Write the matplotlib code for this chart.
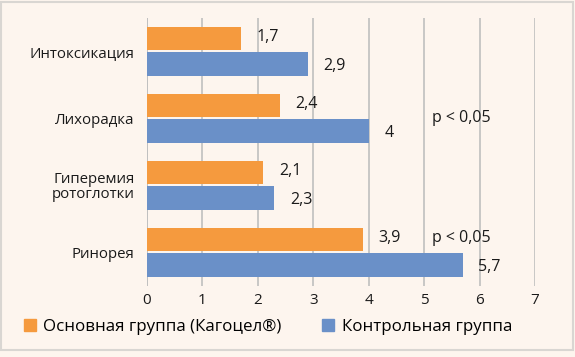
import matplotlib
matplotlib.use("Agg")
import matplotlib.pyplot as plt
import numpy as np
from matplotlib.patches import Rectangle

categories = ["Интоксикация", "Лихорадка", "Гиперемия\nротоглотки", "Ринорея"]
main_group = [1.7, 2.4, 2.1, 3.9]
control_group = [2.9, 4.0, 2.3, 5.7]
main_labels = ["1,7", "2,4", "2,1", "3,9"]
control_labels = ["2,9", "4", "2,3", "5,7"]
series_names = ["Основная группа (Кагоцел®)", "Контрольная группа"]
p_notes = [(1, "p < 0,05"), (3, "p < 0,05")]

plt.rcParams['font.family'] = ['Open Sans', 'DejaVu Sans']

bg = "#FDF5EE"
orange = "#F59A3E"
blue = "#6A90C8"
txtc = "#1a1a1a"

fig = plt.figure(figsize=(5.75, 3.57), dpi=100, facecolor=bg)
fig.patches.append(Rectangle((0.002, 0.02), 0.995, 0.975, transform=fig.transFigure,
                             facecolor="none", edgecolor="#D9D6D2", lw=1.5))
ax = fig.add_axes([0.2557, 0.199, 0.9304 - 0.2557, 0.9496 - 0.199])
ax.set_facecolor(bg)

y = np.arange(len(categories))
h = 0.35
off = 0.19
ax.barh(y - off, main_group, height=h, color=orange, zorder=3, label=series_names[0])
ax.barh(y + off, control_group, height=h, color=blue, zorder=3, label=series_names[1])

for i in range(len(categories)):
    ax.text(main_group[i] + 0.28, y[i] - off - 0.03, main_labels[i], va="center", ha="left",
            fontsize=11.5, color=txtc)
    ax.text(control_group[i] + 0.28, y[i] + off + 0.02, control_labels[i], va="center", ha="left",
            fontsize=11.5, color=txtc)
for idx, txt in p_notes:
    yy = y[idx] + (0.0 if idx == 1 else -off - 0.03)
    ax.text(5.14, yy, txt, va="center", ha="left", fontsize=11.5, color=txtc)

ax.set_xlim(0, 7)
ax.set_ylim(len(categories) - 0.5, -0.5)
ax.set_xticks(range(8))
ax.set_yticks(y)
ax.set_yticklabels(categories, fontsize=10.8, linespacing=1.0)
ax.tick_params(axis="both", length=0, colors=txtc)
ax.tick_params(axis="x", labelsize=11, pad=5)
ax.tick_params(axis="y", pad=9)
ax.grid(axis="x", color="#BFBFBF", lw=1.2, zorder=0)
for s in ax.spines.values():
    s.set_visible(False)
ax.axvline(0, color="#BFBFBF", lw=1.2, zorder=1)

handles = [Rectangle((0, 0), 1, 1, color=orange), Rectangle((0, 0), 1, 1, color=blue)]
fig.legend(handles, series_names, loc="center", bbox_to_anchor=(0.466, 0.085), ncol=2,
           frameon=False, fontsize=12.2, handlelength=0.7, handleheight=0.7,
           handletextpad=0.45, columnspacing=2.4)

fig.savefig("out.png", dpi=100, facecolor=bg)
